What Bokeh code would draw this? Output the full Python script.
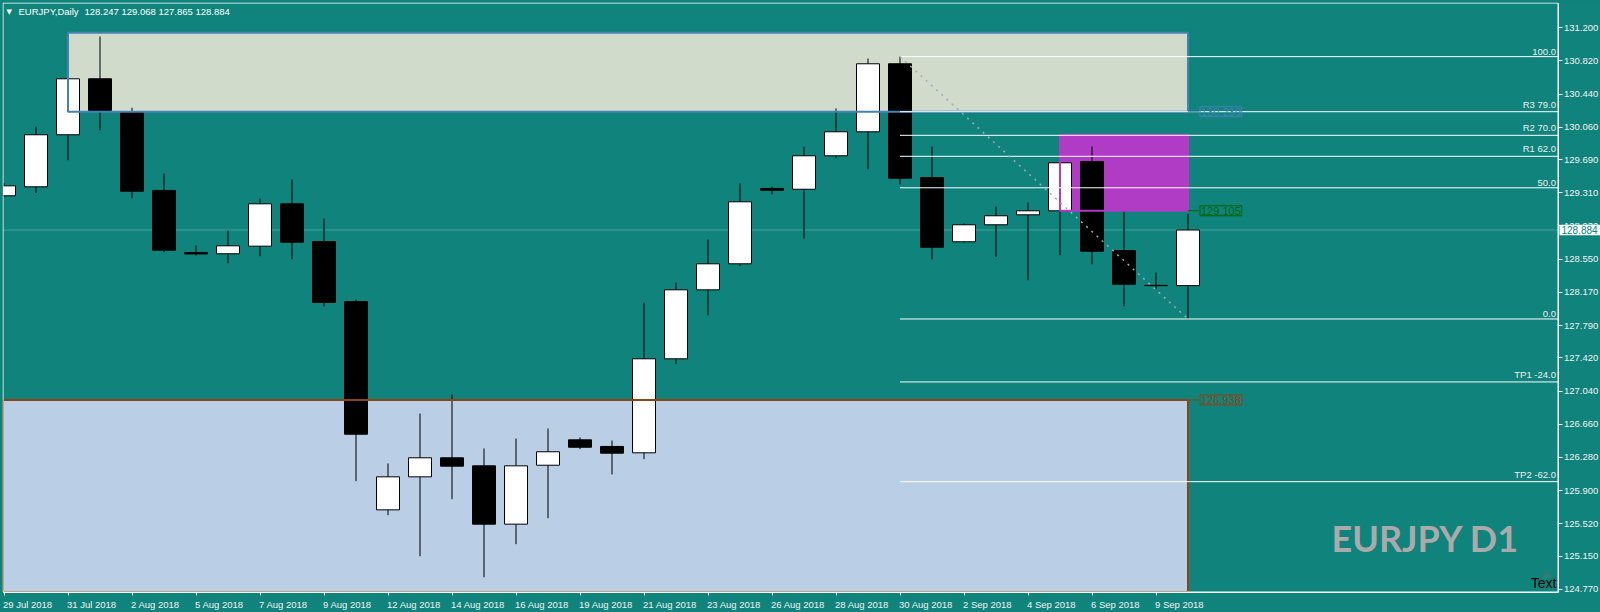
from bokeh.plotting import figure
from bokeh.models import (ColumnDataSource, Range1d, FixedTicker, NumeralTickFormatter,
                          LinearAxis, Label, LabelSet, GlobalInlineStyleSheet)
from bokeh.core.properties import value
from bokeh.embed import file_html
from bokeh.resources import INLINE

# ---------------- data ----------------
symbol = "EURJPY"
timeframe = "Daily"
dates = ["29 Jul 2018", "30 Jul 2018", "31 Jul 2018", "1 Aug 2018", "2 Aug 2018", "3 Aug 2018",
         "5 Aug 2018", "6 Aug 2018", "7 Aug 2018", "8 Aug 2018", "9 Aug 2018", "10 Aug 2018",
         "12 Aug 2018", "13 Aug 2018", "14 Aug 2018", "15 Aug 2018", "16 Aug 2018", "17 Aug 2018",
         "19 Aug 2018", "20 Aug 2018", "21 Aug 2018", "22 Aug 2018", "23 Aug 2018", "24 Aug 2018",
         "26 Aug 2018", "27 Aug 2018", "28 Aug 2018", "29 Aug 2018", "30 Aug 2018", "31 Aug 2018",
         "2 Sep 2018", "3 Sep 2018", "4 Sep 2018", "5 Sep 2018", "6 Sep 2018", "7 Sep 2018",
         "9 Sep 2018", "10 Sep 2018"]
opens = [129.276, 129.379, 129.975, 130.616, 130.240, 129.337, 128.625, 128.612, 128.699, 129.184,
         128.752, 128.065, 125.679, 126.057, 126.275, 126.183, 125.515, 126.190, 126.481, 126.405,
         126.332, 127.409, 128.199, 128.497, 129.360, 129.351, 129.734, 130.009, 130.788, 129.485,
         128.749, 128.944, 129.058, 129.104, 129.669, 128.649, 128.250, 128.247]
highs = [129.425, 130.070, 130.630, 131.100, 130.284, 129.531, 128.707, 128.878, 129.245, 129.463,
         129.016, 128.088, 126.210, 126.782, 127.000, 126.382, 126.496, 126.611, 126.508, 126.473,
         128.054, 128.283, 128.775, 129.417, 129.382, 129.840, 130.276, 130.848, 130.870, 129.840,
         128.959, 129.153, 129.199, 129.974, 129.840, 129.107, 128.397, 129.068]
lows = [129.260, 129.306, 129.684, 130.027, 129.248, 128.630, 128.592, 128.504, 128.584, 128.550,
        128.008, 126.007, 125.618, 125.148, 125.801, 124.907, 125.286, 125.583, 126.374, 126.084,
        126.259, 127.347, 127.905, 128.470, 129.291, 128.787, 129.707, 129.580, 129.405, 128.546,
        128.740, 128.573, 128.309, 128.596, 128.492, 128.011, 128.206, 127.865]
closes = [129.390, 129.975, 130.616, 130.253, 129.329, 128.653, 128.610, 128.703, 129.184, 128.744,
          128.054, 126.545, 126.057, 126.275, 126.179, 125.515, 126.183, 126.344, 126.396, 126.328,
          127.409, 128.199, 128.497, 129.207, 129.340, 129.734, 130.009, 130.788, 129.477, 128.687,
          128.944, 129.047, 129.104, 129.654, 128.641, 128.263, 128.247, 128.884]

price_ticks = [131.20, 130.82, 130.44, 130.06, 129.69, 129.31, 128.93, 128.55, 128.17,
               127.79, 127.42, 127.04, 126.66, 126.28, 125.90, 125.52, 125.15, 124.77]

# rectangles (zones): start bar, end bar, bottom price, top price
zone_start = [2, -4, 33]
zone_end = [37, 37, 37]
zone_bottom = [130.239, 123.900, 129.105]
zone_top = [131.143, 126.938, 129.974]

fib_levels = [100.0, 79.0, 70.0, 62.0, 50.0, 0.0, -24.0, -62.0]
fib_names = ["", "R3 ", "R2 ", "R1 ", "", "", "TP1 ", "TP2 "]

# ---------------- style / layout ----------------
BG = "#0F837C"
FONT = "Liberation Sans"
FS = "9.5px"
W, H = 1600, 612
PX_PER_BAR = 32.0
PX_PER_PRICE = 87.31
BAR0_PX = 3.5          # canvas x of bar 0 centre
REF_PRICE, REF_PX = 131.2, 27.3
LEFT, TOP = 2, 2       # frame offset inside canvas
CHART_R_PX, CHART_B_PX = 1557.5, 591.5

def px_to_x(px):
    return (px - BAR0_PX) / PX_PER_BAR

def py_to_price(py):
    return REF_PRICE - (py - REF_PX) / PX_PER_PRICE

x_start, x_end = px_to_x(LEFT), px_to_x(W)
y_end, y_start = py_to_price(TOP), py_to_price(H)
xl, xr = px_to_x(LEFT + 0.5), px_to_x(CHART_R_PX)
yt, yb = py_to_price(TOP + 0.5), py_to_price(CHART_B_PX)

ARIAL = {" ": .278, "J": .5, "u": .556, "l": .222, "A": .667, "g": .556, "S": .667, "e": .556, "p": .556}
def text_w(s, size):
    return sum(ARIAL.get(ch, .556) for ch in s) * size

n = len(dates)
idx = list(range(n))

p = figure(width=W, height=H, x_range=Range1d(x_start, x_end), y_range=Range1d(y_start, y_end),
           output_backend="svg", toolbar_location=None,
           x_axis_location=None, y_axis_location=None,
           min_border_left=LEFT, min_border_top=TOP, min_border_right=0, min_border_bottom=0)
p.background_fill_color = BG
p.border_fill_color = BG
p.outline_line_color = None
p.grid.visible = False
p.stylesheets = [GlobalInlineStyleSheet(css="html, body { background-color: %s; }" % BG)]

# ---- price axis (right, pinned at chart edge)
yax = LinearAxis(ticker=FixedTicker(ticks=price_ticks), formatter=NumeralTickFormatter(format="0.000"),
                 fixed_location=xr, bounds=(yb, yt))
yax.axis_line_color = "white"
yax.major_tick_line_color = "white"
yax.major_tick_out = 4
yax.major_tick_in = 0
yax.minor_tick_line_color = None
yax.major_label_text_color = "#F2F2F2"
yax.major_label_text_font = FONT
yax.major_label_text_font_size = FS
yax.major_label_standoff = 2
p.add_layout(yax, "right")

# ---- time axis (below, pinned at chart bottom); labels start at their tick
tick_idx = idx[::2]
label_pos = [i + (text_w(dates[i], 9.5) / 2 - 1) / PX_PER_BAR for i in tick_idx]
xax = LinearAxis(ticker=FixedTicker(ticks=label_pos, minor_ticks=tick_idx),
                 fixed_location=yb, bounds=(xl, xr))
xax.major_label_overrides = {pos: dates[i] for pos, i in zip(label_pos, tick_idx)}
xax.axis_line_color = "white"
xax.major_tick_line_color = None
xax.major_tick_out = 0
xax.major_tick_in = 0
xax.minor_tick_line_color = "white"
xax.minor_tick_out = 3
xax.minor_tick_in = 0
xax.major_label_text_color = "#F2F2F2"
xax.major_label_text_font = FONT
xax.major_label_text_font_size = FS
xax.major_label_standoff = 4
p.add_layout(xax, "below")

# ---- zone fills
zsrc = ColumnDataSource(dict(left=[max(v, xl) for v in zone_start], right=zone_end,
                             bottom=[max(v, yb) for v in zone_bottom], top=zone_top,
                             fill=["#D0DBCC", "#BACEE6", "#B03CC6"],
                             edge=["#4682B4", "#8B4513", "#B03CC6"]))
p.quad(left="left", right="right", bottom="bottom", top="top", source=zsrc,
       fill_color="fill", line_color=None)

# ---- current price line
p.line([xl, xr], [closes[-1], closes[-1]], line_color="#45A299", line_width=1)

# ---- candles
src = ColumnDataSource(dict(
    x=idx, o=opens, h=highs, l=lows, c=closes,
    top=[max(o, c) for o, c in zip(opens, closes)],
    bot=[min(o, c) for o, c in zip(opens, closes)],
    fill=["white" if c >= o else "black" for o, c in zip(opens, closes)]))
p.segment(x0="x", y0="l", x1="x", y1="h", source=src, line_color="black", line_width=1)
p.vbar(x="x", width=23 / PX_PER_BAR, top="top", bottom="bot", source=src,
       fill_color="fill", line_color="black", line_width=1)

# ---- zone borders on top of candles
p.quad(left="left", right="right", bottom="bottom", top="top", source=zsrc,
       fill_color=None, line_color="edge", line_width=2)

# ---- fibonacci
last = range(n - 10, n)
i_hi = max(last, key=lambda i: highs[i])
i_lo = min(range(i_hi, n), key=lambda i: lows[i])
hi, lo = highs[i_hi], lows[i_lo]
fib_prices = [lo + (hi - lo) * lv / 100.0 for lv in fib_levels]
p.segment(x0=[i_hi] * len(fib_prices), y0=fib_prices, x1=[xr] * len(fib_prices), y1=fib_prices,
          line_color="white", line_width=1)
p.line([i_hi, i_lo], [hi, lo], line_color="#A2ACB6", line_width=1.5, line_dash="2 5")
fsrc = ColumnDataSource(dict(x=[xr] * len(fib_prices), y=fib_prices,
                             t=["%s%.1f" % (nm, lv) for nm, lv in zip(fib_names, fib_levels)]))
p.add_layout(LabelSet(x="x", y="y", text="t", source=fsrc, x_offset=-2, y_offset=2,
                      text_align="right", text_baseline="bottom", text_color="#EEEEEE",
                      text_font=value(FONT), text_font_size=FS))

# ---- chart border (left / top)
p.quad(left=[xl], right=[xr], bottom=[yb], top=[yt], fill_color=None, line_color="white", line_width=1)

# ---- zone price tags
conn = 11 / PX_PER_BAR
tags = [(zone_end[0], zone_bottom[0], "#4682B4"),
        (zone_end[2], zone_bottom[2], "#006400"),
        (zone_end[1], zone_top[1], "#8B4513")]
for xe, pr, col in tags:
    p.line([xe, xe + conn], [pr, pr], line_color=col, line_width=1)
    p.add_layout(Label(x=xe, y=pr, x_offset=12, text="%.3f" % pr, text_align="left",
                       text_baseline="middle", text_color=col, text_font=FONT,
                       text_font_size="11px", border_line_color=col, border_line_width=1,
                       padding=1))

# ---- current price tag on the price scale
box_h = 5.2 / PX_PER_PRICE
p.quad(left=[xr + 1.5 / PX_PER_BAR], right=[x_end], bottom=[closes[-1] - box_h],
       top=[closes[-1] + box_h], fill_color="white", line_color=None)
p.add_layout(Label(x=xr, y=closes[-1], x_offset=3.5, text="%.3f" % closes[-1], text_align="left",
                   text_baseline="middle", text_color=BG, text_font=FONT, text_font_size="10px"))

# ---- header (screen units are measured from the frame's bottom-left corner)
p.add_layout(Label(x=4, y=H - 11, x_units="screen", y_units="screen", text="\u25BC",
                   text_align="left", text_baseline="middle", text_color="white",
                   text_font="DejaVu Sans", text_font_size="7px"))
p.add_layout(Label(x=16, y=H - 11, x_units="screen", y_units="screen",
                   text="%s,%s" % (symbol, timeframe), text_align="left", text_baseline="middle",
                   text_color="white", text_font=FONT, text_font_size=FS))
p.add_layout(Label(x=82, y=H - 11, x_units="screen", y_units="screen",
                   text="%.3f %.3f %.3f %.3f" % (opens[-1], highs[-1], lows[-1], closes[-1]),
                   text_align="left", text_baseline="middle", text_color="white",
                   text_font=FONT, text_font_size=FS))

# ---- watermark and text object
p.add_layout(Label(x=1517, y=H - 537, x_units="screen", y_units="screen",
                   text="%s D1" % symbol, text_align="right", text_baseline="middle",
                   text_color="#AAAAAA", text_font="Lato", text_font_style="bold",
                   text_font_size="36px"))
p.add_layout(Label(x=1554, y=H - 582, x_units="screen", y_units="screen", text="Text",
                   text_align="right", text_baseline="middle", text_color="black",
                   text_font=FONT, text_font_size="14px"))
p.add_layout(Label(x=1544, y=H - 574, x_units="screen", y_units="screen", text="\u2620",
                   text_align="center", text_baseline="middle", text_color="#6E6E6E",
                   text_font="DejaVu Sans", text_font_size="10px"))

open("out.html", "w").write(file_html(p, INLINE))
